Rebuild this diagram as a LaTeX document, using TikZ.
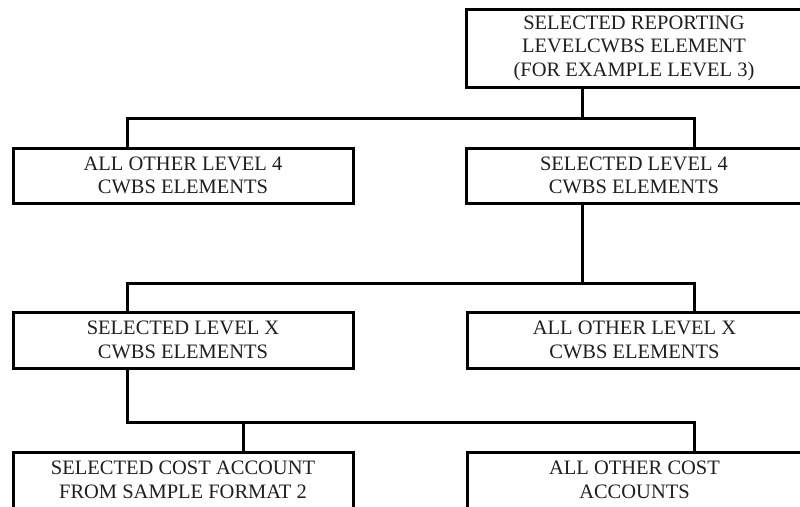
\documentclass[tikz,border=0pt]{standalone}
\usepackage{fontspec}
\setmainfont{Liberation Serif}
\begin{document}
\begin{tikzpicture}[x=1pt,y=-1pt,
  box/.style={draw=black, line width=3pt, align=center, inner sep=0pt,
    font=\fontsize{20.5}{23.5}\selectfont, text=black!88},
  wide/.style={box, minimum width=340pt, minimum height=55pt},
  wider/.style={box, minimum width=336pt, minimum height=55pt},
  conn/.style={draw=black, line width=3pt}]
\useasboundingbox (0,0) rectangle (800,506);
\fill[white] (0,0) rectangle (800,506);
\clip (0,0) rectangle (800,506);
% nodes
\node[box, minimum width=336pt, minimum height=78pt] (top) at (634,48)
  {SELECTED REPORTING\\LEVELCWBS ELEMENT\\(FOR EXAMPLE LEVEL 3)};
\node[wide] (l4a) at (183,175.5) {ALL OTHER LEVEL 4\\CWBS ELEMENTS};
\node[wider] (l4b) at (634,175.5) {SELECTED LEVEL 4\\CWBS ELEMENTS};
\node[wide, minimum height=56pt] (lxa) at (183,340) {SELECTED LEVEL X\\CWBS ELEMENTS};
\node[wide, minimum height=56pt, minimum width=335pt] (lxb) at (634.5,340) {ALL OTHER LEVEL X\\CWBS ELEMENTS};
\node[wide, minimum height=56pt] (ca) at (183,480) {SELECTED COST ACCOUNT\\FROM SAMPLE FORMAT 2};
\node[wide, minimum height=56pt, minimum width=335pt] (cb) at (634.5,480) {ALL OTHER COST\\ACCOUNTS};
% bus coordinates
\coordinate (j1) at (582,118);
\coordinate (b1l) at (127,118);
\coordinate (b1r) at (694,118);
\coordinate (j2) at (582,283);
\coordinate (b2l) at (127,283);
\coordinate (b2r) at (694,283);
\coordinate (b3l) at (127,422);
\coordinate (b3m) at (243,422);
\coordinate (b3r) at (694,422);
% connectors
\draw[conn] (top.south -| j1) -- (j1);
\draw[conn] (l4a.north -| b1l) -- (b1l) -- (b1r) -- (l4b.north -| b1r);
\draw[conn] (l4b.south -| j2) -- (j2);
\draw[conn] (lxa.north -| b2l) -- (b2l) -- (b2r) -- (lxb.north -| b2r);
\draw[conn] (lxa.south -| b3l) -- (b3l) -- (b3r) -- (cb.north -| b3r);
\draw[conn] (b3m) -- (ca.north -| b3m);
\end{tikzpicture}
\end{document}
